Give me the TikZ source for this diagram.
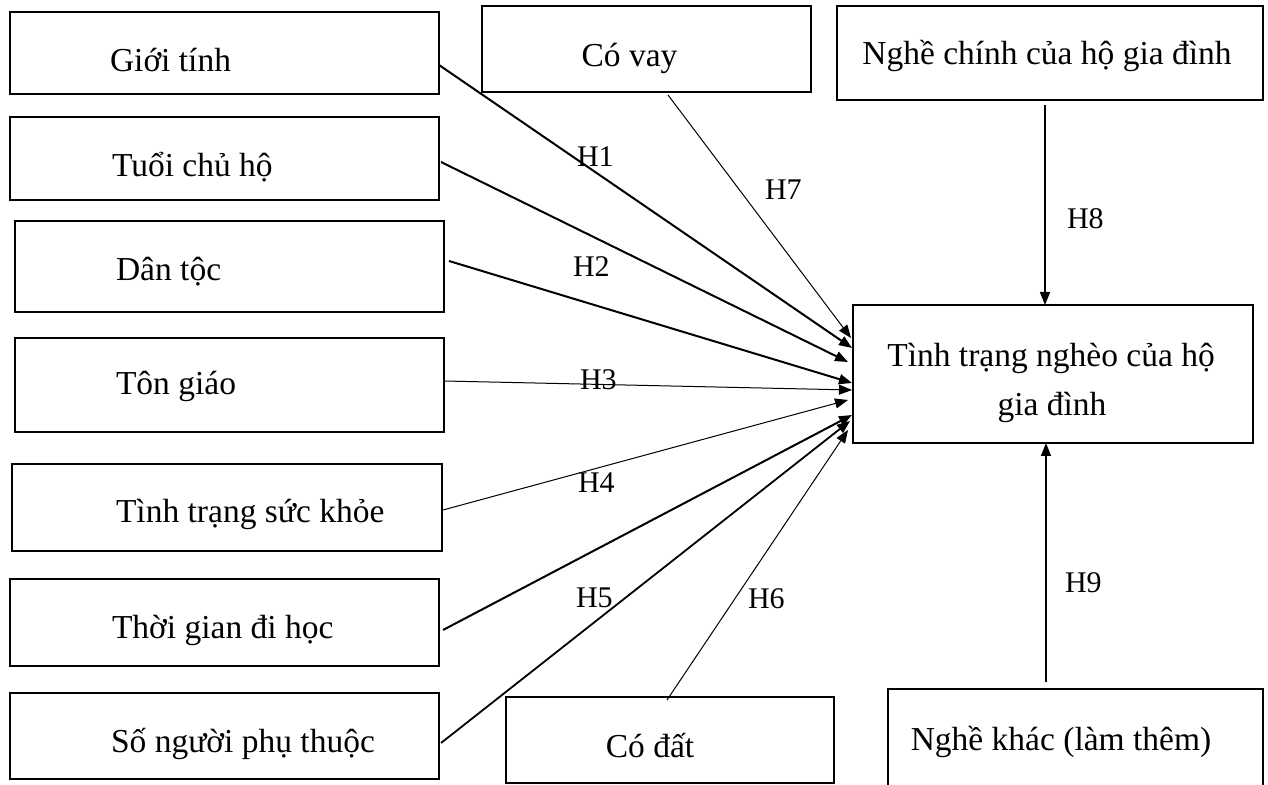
\documentclass[tikz,border=0pt]{standalone}
\usepackage{fontspec}
\setmainfont{Liberation Serif}
\usetikzlibrary{arrows.meta,calc}
\tikzset{
  boxst/.style={draw, line width=1pt, inner sep=0pt, outer sep=0pt},
  txt/.style={inner sep=0pt, outer sep=0pt, font=\fontsize{16.75}{24.5}\selectfont},
  hlbl/.style={inner sep=0pt, outer sep=0pt, font=\fontsize{15}{18}\selectfont, anchor=base west},
  thickarr/.style={line width=1pt, -{Triangle[length=6.5pt,width=5pt]}},
  thinarr/.style={line width=0.5pt, -{Triangle[length=6.5pt,width=5pt]}},
  vertarr/.style={line width=0.8pt, -{Triangle[length=6.5pt,width=5pt]}},
}
\newcommand\mybox[5]{\node[boxst, minimum width={(#4-#2)*0.5pt}, minimum height={(#5-#3)*0.5pt}] (#1) at ({(#2+#4)/2},{(#3+#5)/2}) {};}
\begin{document}
\begin{tikzpicture}[x=0.5pt,y=-0.5pt]
\useasboundingbox (0,0) rectangle (1268,785);
\clip (0,0) rectangle (1268,785);
% left boxes
\mybox{gioi}{10}{12}{439}{94}
\mybox{tuoi}{10}{117}{439}{200}
\mybox{dan}{15}{221}{444}{312}
\mybox{ton}{15}{338}{444}{432}
\mybox{suc}{12}{464}{442}{551}
\mybox{thoi}{10}{579}{439}{666}
\mybox{so}{10}{693}{439}{779}
% other boxes
\mybox{cv}{482}{6}{811}{92}
\mybox{nc}{837}{6}{1263}{100}
\mybox{tt}{853}{305}{1253}{443}
\mybox{cd}{506}{697}{834}{783}
\mybox{nk}{888}{689}{1263}{800}
% texts
\node[txt, anchor=base west] (t-gioi) at (110,72) {Giới tính};
\node[txt, anchor=base west] (t-tuoi) at (112,177) {Tuổi chủ hộ};
\node[txt, anchor=base west] (t-dan) at (116,281) {Dân tộc};
\node[txt, anchor=base west] (t-ton) at (116,395) {Tôn giáo};
\node[txt, anchor=base west] (t-suc) at (116,523) {Tình trạng sức khỏe};
\node[txt, anchor=base west] (t-thoi) at (112,638) {Thời gian đi học};
\node[txt, anchor=base west] (t-so) at (111,752) {Số người phụ thuộc};
\node[txt, anchor=base] (t-cv) at (629.5,67) {Có vay};
\node[txt, anchor=base] (t-nc) at (1047,65) {Nghề chính của hộ gia đình};
\node[txt, anchor=base] (t-tt1) at (1051,367) {Tình trạng nghèo của hộ};
\node[txt, anchor=base] (t-tt2) at (1052,416) {gia đình};
\node[txt, anchor=base] (t-cd) at (650,757) {Có đất};
\node[txt, anchor=base] (t-nk) at (1061,750) {Nghề khác (làm thêm)};
% connectors
\draw[thickarr] ($(gioi.east)+(0,12)$) -- ($(tt.west)+(-1,-26)$);
\draw[thickarr] ($(tuoi.east)+(2,3.5)$) -- ($(tt.west)+(-5,-12)$);
\draw[thickarr] ($(dan.east)+(5,-5.5)$) -- ($(tt.west)+(-1,9)$);
\draw[thinarr] ($(ton.east)+(0,-4)$) -- ($(tt.west)+(-1,16)$);
\draw[thinarr] ($(suc.east)+(1,2.5)$) -- ($(tt.west)+(-5,26)$);
\draw[thickarr] ($(thoi.east)+(4,7.5)$) -- ($(tt.west)+(-1,41)$);
\draw[thickarr, line width=0.9pt] ($(so.east)+(2,7)$) -- ($(tt.west)+(-3,47)$);
\draw[thinarr] ($(cv.south)+(21.5,3)$) -- ($(tt.west)+(-2,-36)$);
\draw[thinarr] ($(cd.north)+(-3,3)$) -- ($(tt.west)+(-5,56)$);
\draw[vertarr] ($(nc.south)+(-5,5)$) -- ($(tt.north)+(-8,0)$);
\draw[vertarr] ($(nk.north)+(-29.5,-7)$) -- ($(tt.south)+(-7,0)$);
% labels
\node[hlbl] (h1) at (577,167) {H1};
\node[hlbl] (h2) at (573,277) {H2};
\node[hlbl] (h3) at (580,390) {H3};
\node[hlbl] (h4) at (578,493) {H4};
\node[hlbl] (h5) at (576,607) {H5};
\node[hlbl] (h6) at (748,608) {H6};
\node[hlbl] (h7) at (765,200) {H7};
\node[hlbl] (h8) at (1067,229) {H8};
\node[hlbl] (h9) at (1065,592) {H9};
\end{tikzpicture}
\end{document}
